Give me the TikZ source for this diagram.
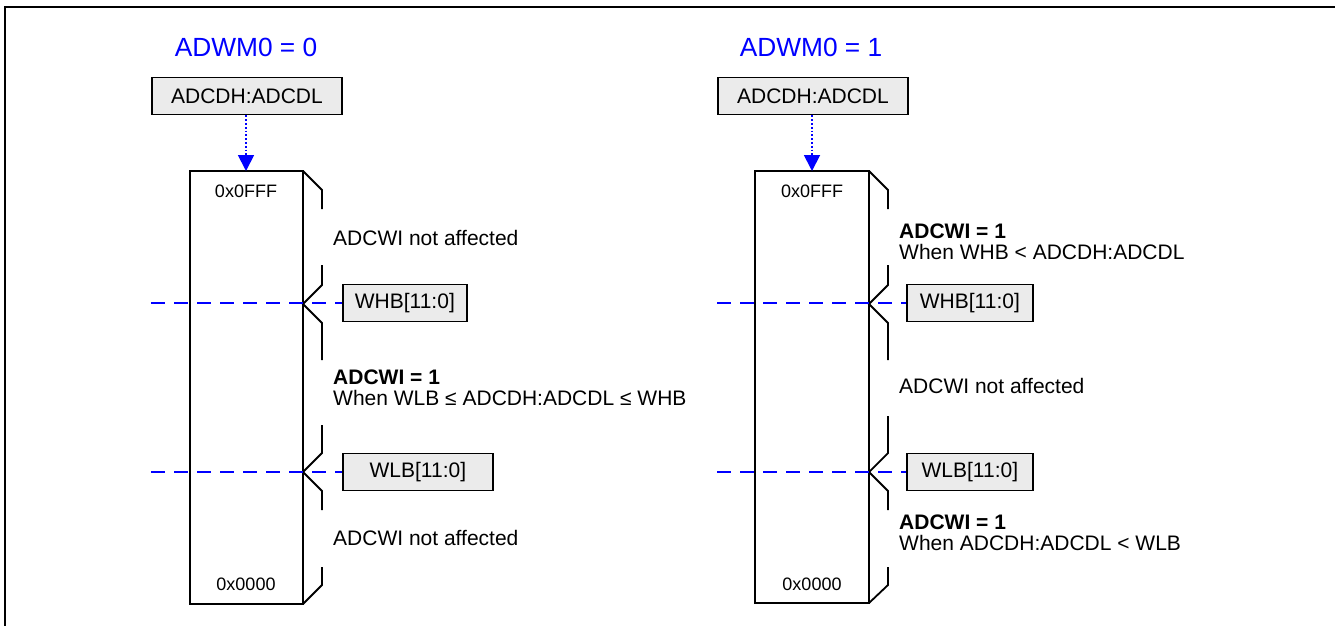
\documentclass[tikz,border=0pt]{standalone}
\usepackage{fontspec}
\setmainfont{Liberation Sans}
\usetikzlibrary{arrows.meta}
\definecolor{boxgray}{HTML}{EBEBEB}
\definecolor{pureblue}{RGB}{0,0,255}
\tikzset{
  regbox/.style={draw=black, line width=1.7pt, fill=boxgray, inner sep=0pt, minimum height=37pt, font=\fontsize{21}{24}\selectfont},
  title/.style={text=pureblue, font=\fontsize{26.3}{30}\selectfont, inner sep=0pt},
  body/.style={font=\fontsize{21}{24}\selectfont, inner sep=0pt, anchor=west},
  bodyb/.style={font=\fontsize{21}{24}\selectfont\bfseries, inner sep=0pt, anchor=west},
  hex/.style={font=\fontsize{18}{22}\selectfont, inner sep=0pt},
  memrect/.style={draw=black, line width=1.8pt},
  bracel/.style={draw=black, line width=1.8pt},
  levelline/.style={draw=pureblue, line width=1.8pt, dash pattern=on 14pt off 9pt},
  feedarrow/.style={draw=pureblue, line width=1.8pt, dash pattern=on 1.8pt off 2pt, -{Triangle[length=16pt,width=16pt]}}
}
\begin{document}
\begin{tikzpicture}[x=1pt,y=-1pt]
\useasboundingbox (0,0) rectangle (1335,625);
% frame
\draw[line width=2.6pt] (5,640) -- (5,7) -- (1350,7);

% ---------------- left panel ----------------
\node[title] (t0) at (246,47) {ADWM0 = 0};
\node[regbox, minimum width=190pt] (src0) at (247,96) {ADCDH:ADCDL};
\coordinate (m0tl) at (190,171);
\coordinate (m0br) at (303,604);
\coordinate (m0top) at (246,171);
\draw[memrect] (m0tl) rectangle (m0br);
\draw[feedarrow] (src0.south -| m0top) -- (m0top);
\node[hex] (h0a) at (246,191) {0x0FFF};
\node[hex] (h0b) at (246,584) {0x0000};
\draw[bracel] (303,171) -- (322,190) -- (322,209);
\draw[bracel] (322,265) -- (322,285) -- (303,304) -- (322,323) -- (322,360);
\draw[bracel] (322,425) -- (322,453) -- (303,472) -- (322,491) -- (322,510);
\draw[bracel] (322,567) -- (322,585) -- (303,604);
\node[regbox, minimum width=124pt, anchor=west] (whb0) at (342,303) {WHB[11:0]};
\node[regbox, minimum width=150pt, anchor=west] (wlb0) at (342,472) {WLB[11:0]};
\coordinate (l0a) at (151,303);
\coordinate (l0b) at (151,472);
\draw[levelline] (l0a) -- (whb0.west);
\draw[levelline] (l0b) -- (wlb0.west);
\node[body] (a0) at (333,238) {ADCWI not affected};
\node[bodyb] (b0) at (333,377) {ADCWI = 1};
\node[body] (c0) at (333,398) {When WLB ≤ ADCDH:ADCDL ≤ WHB};
\node[body] (d0) at (333,538) {ADCWI not affected};

% ---------------- right panel ----------------
\node[title] (t1) at (811,47) {ADWM0 = 1};
\node[regbox, minimum width=190pt] (src1) at (813,96) {ADCDH:ADCDL};
\coordinate (m1tl) at (755,171);
\coordinate (m1br) at (869,603);
\coordinate (m1top) at (812,171);
\draw[memrect] (m1tl) rectangle (m1br);
\draw[feedarrow] (src1.south -| m1top) -- (m1top);
\node[hex] (h1a) at (812,191) {0x0FFF};
\node[hex] (h1b) at (812,584) {0x0000};
\draw[bracel] (869,171) -- (888,190) -- (888,209);
\draw[bracel] (888,265) -- (888,285) -- (869,304) -- (888,323) -- (888,360);
\draw[bracel] (888,416) -- (888,453) -- (869,472) -- (888,491) -- (888,510);
\draw[bracel] (888,567) -- (888,585) -- (869,603);
\node[regbox, minimum width=126pt, anchor=west] (whb1) at (906,303) {WHB[11:0]};
\node[regbox, minimum width=126pt, anchor=west] (wlb1) at (906,472) {WLB[11:0]};
\coordinate (l1a) at (717,303);
\coordinate (l1b) at (717,472);
\draw[levelline] (l1a) -- (whb1.west);
\draw[levelline] (l1b) -- (wlb1.west);
\node[bodyb] (a1) at (899,231) {ADCWI = 1};
\node[body] (b1) at (899,252) {When WHB < ADCDH:ADCDL};
\node[body] (c1) at (899,386) {ADCWI not affected};
\node[bodyb] (d1) at (899,522) {ADCWI = 1};
\node[body] (e1) at (899,543) {When ADCDH:ADCDL < WLB};
\end{tikzpicture}
\end{document}
